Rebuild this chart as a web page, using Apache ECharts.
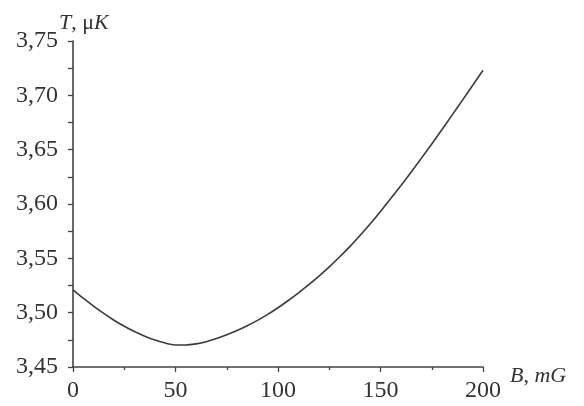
<!DOCTYPE html>
<html>
<head>
<meta charset="utf-8">
<script src="https://cdn.jsdelivr.net/npm/echarts@6/dist/echarts.min.js"></script>
<style>
  html, body { margin: 0; padding: 0; background: #fff; }
  #chart { width: 584px; height: 406px; }
</style>
</head>
<body>
<div id="chart"></div>
<script>
// field B in mG, temperature T in microkelvin
const fieldB = [0, 5, 10, 15, 20, 25, 30, 35, 40, 45, 50, 55, 60, 65, 70, 75, 80, 85, 90, 95, 100,
  105, 110, 115, 120, 125, 130, 135, 140, 145, 150, 155, 160, 165, 170, 175, 180, 185, 190, 195, 200];
const tempT = [3.5210, 3.5133, 3.5060, 3.4993, 3.4930, 3.4875, 3.4826, 3.4784, 3.4748, 3.4720,
  3.4703, 3.4702, 3.4713, 3.4733, 3.4762, 3.4797, 3.4836, 3.4880, 3.4929, 3.4984, 3.5045,
  3.5112, 3.5183, 3.5258, 3.5337, 3.5422, 3.5512, 3.5608, 3.5710, 3.5818, 3.5932,
  3.6050, 3.6171, 3.6295, 3.6422, 3.6552, 3.6685, 3.6820, 3.6956, 3.7093, 3.7231];
const yTicks = [3.45, 3.50, 3.55, 3.60, 3.65, 3.70, 3.75];

const font = "Liberation Serif";
const ink = "#333";

const chart = echarts.init(document.getElementById("chart"));

const options = {
  animation: false,
  grid: {
    left: 73,
    right: 101,
    top: 41,
    bottom: 39,
  },
  xAxis: {
    type: "value",
    min: 0,
    max: 200,
    interval: 50,
    name: "{i|B}, {i|mG}",
    nameLocation: "end",
    nameGap: 27,
    nameMoveOverlap: false,
    nameTextStyle: {
      fontFamily: font,
      fontSize: 22,
      color: ink,
      align: "left",
      verticalAlign: "middle",
      padding: [18, 0, 0, 0],
      rich: {
        i: { fontStyle: "italic", fontFamily: font, fontSize: 22, color: ink },
      },
    },
    splitLine: { show: false },
    axisLine: { show: true, lineStyle: { color: "#444", width: 1.6 } },
    axisTick: { show: true, inside: false, length: 5, lineStyle: { color: "#444", width: 1.3 } },
    minorTick: { show: true, splitNumber: 2, length: 3, lineStyle: { color: "#444", width: 1.3 } },
    axisLabel: {
      margin: 12,
      fontFamily: font,
      fontSize: 24,
      color: ink,
    },
  },
  yAxis: {
    type: "value",
    min: 3.45,
    max: 3.75,
    interval: 0.05,
    name: "{i|T}, μ{i|K}",
    nameLocation: "end",
    nameGap: 18,
    nameMoveOverlap: false,
    nameTextStyle: {
      fontFamily: font,
      fontSize: 22,
      color: ink,
      align: "left",
      verticalAlign: "middle",
      padding: [0, 0, 0, -14],
      rich: {
        i: { fontStyle: "italic", fontFamily: font, fontSize: 22, color: ink },
      },
    },
    splitLine: { show: false },
    axisLine: { show: true, lineStyle: { color: "#444", width: 1.6 } },
    axisTick: { show: true, inside: false, length: 5, lineStyle: { color: "#444", width: 1.3 } },
    minorTick: { show: true, splitNumber: 2, length: 5, lineStyle: { color: "#444", width: 1.3 } },
    axisLabel: {
      margin: 15,
      fontFamily: font,
      fontSize: 24,
      color: ink,
      padding: [12, 0, 0, 0],
      formatter: (v) => {
        const hit = yTicks.find((t) => Math.abs(t - v) < 1e-6);
        return hit === undefined ? "" : hit.toFixed(2).replace(".", ",");
      },
    },
  },
  series: [
    {
      type: "line",
      smooth: 0.3,
      showSymbol: false,
      data: fieldB.map((b, i) => [b, tempT[i]]),
      lineStyle: { color: "#3c3c3c", width: 1.6 },
    },
  ],
};

chart.setOption(options);
</script>
</body>
</html>
